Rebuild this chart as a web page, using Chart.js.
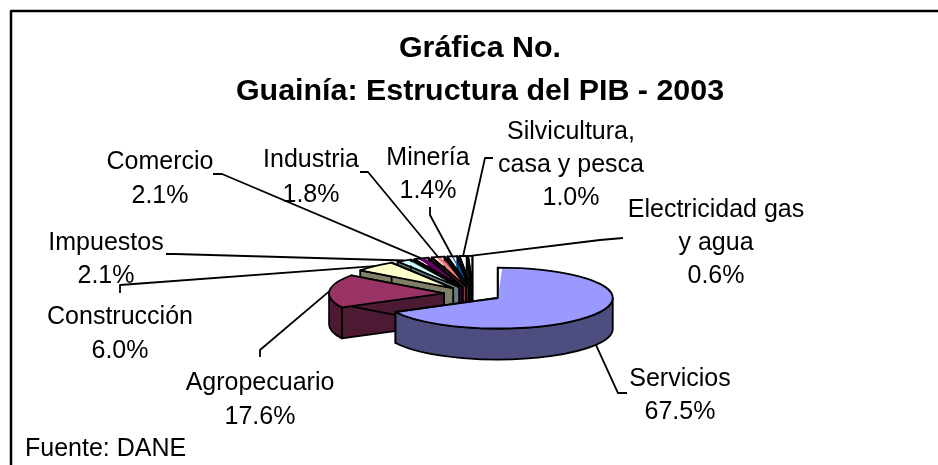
<!DOCTYPE html>
<html>
<head>
<meta charset="utf-8">
<style>
  html, body { margin: 0; padding: 0; background: #fff; }
  #wrap { position: relative; width: 938px; height: 465px; }
</style>
<script src="https://cdn.jsdelivr.net/npm/chart.js@4/dist/chart.umd.min.js"></script>
</head>
<body>
<div id="wrap"><canvas id="myChart" width="938" height="465"></canvas></div>
<script>
// slices, clockwise from 12 o'clock
var categories = ["Servicios", "Agropecuario", "Construcción", "Impuestos", "Comercio", "Industria", "Minería", "Silvicultura, casa y pesca", "Electricidad gas y agua"];
var values = [67.5, 17.6, 6.0, 2.1, 2.1, 1.8, 1.4, 1.0, 0.6];
var colors = ["#9999ff", "#993366", "#ffffcc", "#ccffff", "#660066", "#ff8080", "#0066cc", "#ccccff", "#000080"];
var sideColors = ["#4d4d80", "#4d1a33", "#808066", "#668080", "#330033", "#804040", "#003366", "#666680", "#000040"];

var titleLines = ["Gráfica No.", "Guainía: Estructura del PIB - 2003"];
var sourceText = "Fuente: DANE";

// text lines of each label
var labelLines = [
  ["Servicios", "67.5%"],
  ["Agropecuario", "17.6%"],
  ["Construcción", "6.0%"],
  ["Impuestos", "2.1%"],
  ["Comercio", "2.1%"],
  ["Industria", "1.8%"],
  ["Minería", "1.4%"],
  ["Silvicultura,", "casa y pesca", "1.0%"],
  ["Electricidad gas", "y agua", "0.6%"]
];
// label block position: center x, first baseline, line step
var labelX = [680, 260, 120, 106, 160, 311, 428, 571, 716];
var labelY = [386, 390, 324, 250, 169, 167, 165, 139, 217];
var labelStep = [33, 34, 34, 33, 34, 35, 33, 33, 33];
// leader line start: elbow near the label, then straight into the slice
var leaderA = [[627, 393], [260, 357], [120, 293], [166, 254], [213, 174], [360, 172], [430, 207], [493, 158], [623, 238]];
var leaderB = [[618, 393], [260, 350], [120, 285], [175, 254], [222, 174], [368, 172], [430, 215], [485, 158], [600, 240]];

var tilt = 0.265;
var depth = 31;
var cx = 473, cy = 294;
var pieRadius = 115;
var explode = 29;

// the arc element moves by offset / 4 and its radius grows by a share of that
function radiusFix(a) {
  return 1 - Math.sin(Math.min(Math.PI, a.circumference));
}

function wedge(a) {
  var mid = (a.startAngle + a.endAngle) / 2;
  return {
    mid: mid,
    x: cx + Math.cos(mid) * explode,
    y: cy + Math.sin(mid) * explode * tilt,
    r: pieRadius
  };
}

function darkWalls(chart) {
  var ctx = chart.ctx;
  var arcs = chart.getDatasetMeta(0).data;
  for (var i = arcs.length - 1; i >= 0; i--) {
    var a = arcs[i];
    var w = wedge(a);
    ctx.fillStyle = sideColors[i];
    ctx.strokeStyle = "#000";
    ctx.lineWidth = 1.8;
    ctx.lineJoin = "round";
    // flat sides of the wedge
    [a.startAngle, a.endAngle].forEach(function (ang) {
      var px = w.x + Math.cos(ang) * w.r;
      var py = w.y + Math.sin(ang) * w.r * tilt;
      ctx.beginPath();
      ctx.moveTo(w.x, w.y);
      ctx.lineTo(px, py);
      ctx.lineTo(px, py + depth);
      ctx.lineTo(w.x, w.y + depth);
      ctx.closePath();
      ctx.fill();
      ctx.stroke();
    });
    // curved rim, only the part that faces the viewer
    var s = Math.max(a.startAngle, 0);
    var e = Math.min(a.endAngle, Math.PI);
    if (e > s) {
      ctx.beginPath();
      ctx.ellipse(w.x, w.y, w.r, w.r * tilt, 0, s, e);
      ctx.ellipse(w.x, w.y + depth, w.r, w.r * tilt, 0, e, s, true);
      ctx.closePath();
      ctx.fill();
      ctx.stroke();
    }
  }
}

function topOutlines(chart) {
  var ctx = chart.ctx;
  var arcs = chart.getDatasetMeta(0).data;
  ctx.strokeStyle = "#000";
  ctx.lineWidth = 1.8;
  ctx.lineJoin = "round";
  arcs.forEach(function (a) {
    var w = wedge(a);
    ctx.beginPath();
    ctx.moveTo(w.x, w.y);
    ctx.ellipse(w.x, w.y, w.r, w.r * tilt, 0, a.startAngle, a.endAngle);
    ctx.closePath();
    ctx.stroke();
  });
}

var pie3d = {
  id: "pie3d",
  beforeDatasetDraw: function (chart) {
    chart.getDatasetMeta(0).data.forEach(function (a) {
      a.outerRadius = pieRadius - explode * radiusFix(a);
    });
    darkWalls(chart);
    var ctx = chart.ctx;
    ctx.save();
    ctx.translate(0, cy);
    ctx.scale(1, tilt);
    ctx.translate(0, -cy);
  },
  afterDatasetDraw: function (chart) {
    chart.ctx.restore();
    topOutlines(chart);
  }
};

var labelsAndFrame = {
  id: "labelsAndFrame",
  afterDraw: function (chart) {
    var ctx = chart.ctx;
    var arcs = chart.getDatasetMeta(0).data;
    ctx.save();
    // frame
    ctx.strokeStyle = "#000";
    ctx.lineWidth = 2.5;
    ctx.beginPath();
    ctx.moveTo(11, 465);
    ctx.lineTo(11, 11);
    ctx.lineTo(938, 11);
    ctx.stroke();
    // leader lines
    ctx.lineWidth = 1.8;
    arcs.forEach(function (a, i) {
      var w = wedge(a);
      var tx = w.x + Math.cos(w.mid) * w.r;
      var ty = w.y + Math.sin(w.mid) * w.r * tilt + (Math.sin(w.mid) > 0 ? depth : 0);
      ctx.beginPath();
      ctx.moveTo(leaderA[i][0], leaderA[i][1]);
      ctx.lineTo(leaderB[i][0], leaderB[i][1]);
      ctx.lineTo(tx, ty);
      ctx.stroke();
    });
    // labels
    ctx.fillStyle = "#000";
    ctx.font = "25px 'Liberation Sans', Arial, sans-serif";
    ctx.textAlign = "center";
    ctx.textBaseline = "alphabetic";
    labelLines.forEach(function (lines, i) {
      lines.forEach(function (t, j) {
        ctx.fillText(t, labelX[i], labelY[i] + j * labelStep[i]);
      });
    });
    ctx.textAlign = "left";
    ctx.fillText(sourceText, 25, 456);
    // title
    ctx.font = "bold 30.4px 'Liberation Sans', Arial, sans-serif";
    ctx.textAlign = "center";
    ctx.fillText(titleLines[0], 480, 57);
    ctx.fillText(titleLines[1], 480, 100);
    ctx.restore();
  }
};

var ctx = document.getElementById("myChart").getContext("2d");
var chart = new Chart(ctx, {
  type: "pie",
  data: {
    labels: categories,
    datasets: [{
      data: values,
      backgroundColor: colors,
      borderWidth: 0,
      offset: explode * 4,
      clip: false
    }]
  },
  options: {
    responsive: false,
    animation: false,
    radius: pieRadius,
    layout: { padding: { left: 8, top: 123 } },
    plugins: {
      legend: { display: false },
      tooltip: { enabled: false },
      title: { display: false }
    }
  },
  plugins: [pie3d, labelsAndFrame]
});
</script>
</body>
</html>
